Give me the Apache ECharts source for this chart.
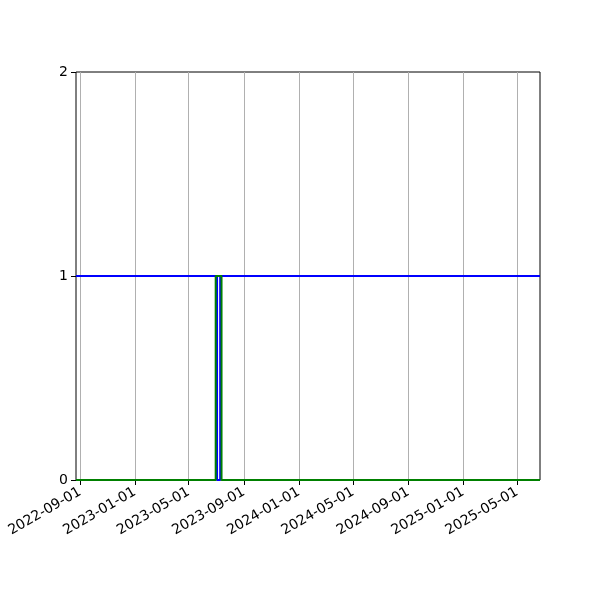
<!DOCTYPE html>
<html><head><meta charset="utf-8">
<script src="https://cdn.jsdelivr.net/npm/echarts@6/dist/echarts.min.js"></script>
<style>html,body{margin:0;padding:0;background:#fff}#c{width:600px;height:600px}</style>
</head><body><div id="c"></div>
<script>
// x-axis range and tick labels
const xRange = ['2022-08-23', '2025-06-21'];
const xTicks = ['2022-09-01','2023-01-01','2023-05-01','2023-09-01','2024-01-01','2024-05-01','2024-09-01','2025-01-01','2025-05-01'];
const yTicks = [0, 1, 2];
// series: [date, value]
const blueDates  = ['2022-08-23','2023-07-03','2023-07-03','2023-07-10','2023-07-10','2025-06-21'];
const blueValues = [1, 1, 0, 0, 1, 1];
const greenDates  = ['2022-08-23','2023-06-30','2023-06-30','2023-07-13','2023-07-13','2025-06-21'];
const greenValues = [0, 0, 1, 1, 0, 0];

const t = s => new Date(s + 'T00:00:00').getTime();
const pad = n => (n < 10 ? '0' : '') + n;
const fmt = v => { const d = new Date(v); return d.getFullYear() + '-' + pad(d.getMonth() + 1) + '-' + pad(d.getDate()); };
const font = 'DejaVu Sans';

const chart = echarts.init(document.getElementById('c'), null, {renderer: 'canvas'});
chart.setOption({
  animation: false,
  backgroundColor: '#fff',
  grid: {left: 76, right: 60, top: 72, bottom: 120, show: true, borderColor: '#000', borderWidth: 1, backgroundColor: 'transparent'},
  xAxis: {
    type: 'value',
    min: t(xRange[0]), max: t(xRange[1]),
    axisLine: {show: false, onZero: false},
    axisTick: {show: true, inside: false, length: 5, lineStyle: {color: '#000', width: 1}, customValues: xTicks.map(t)},
    axisLabel: {show: true, customValues: xTicks.map(t), formatter: v => fmt(v), rotate: 30, margin: 11,
      color: '#000', fontFamily: font, fontSize: 14, hideOverlap: false},
    splitLine: {show: true, lineStyle: {color: '#b0b0b0', width: 1}},
    minorTick: {show: false}
  },
  yAxis: {
    type: 'value', min: yTicks[0], max: yTicks[yTicks.length - 1], interval: 1,
    axisLine: {show: false},
    axisTick: {show: true, inside: false, length: 5, lineStyle: {color: '#000', width: 1}},
    axisLabel: {color: '#000', fontFamily: font, fontSize: 14, margin: 8},
    splitLine: {show: false}
  },
  series: [
    {type: 'line', data: blueDates.map((d, i) => [t(d), blueValues[i]]), showSymbol: false, symbol: 'none',
     lineStyle: {color: '#0000ff', width: 2}, itemStyle: {color: '#0000ff'}, z: 3},
    {type: 'line', data: greenDates.map((d, i) => [t(d), greenValues[i]]), showSymbol: false, symbol: 'none',
     lineStyle: {color: '#008000', width: 2}, itemStyle: {color: '#008000'}, z: 4}
  ]
});
</script></body></html>
